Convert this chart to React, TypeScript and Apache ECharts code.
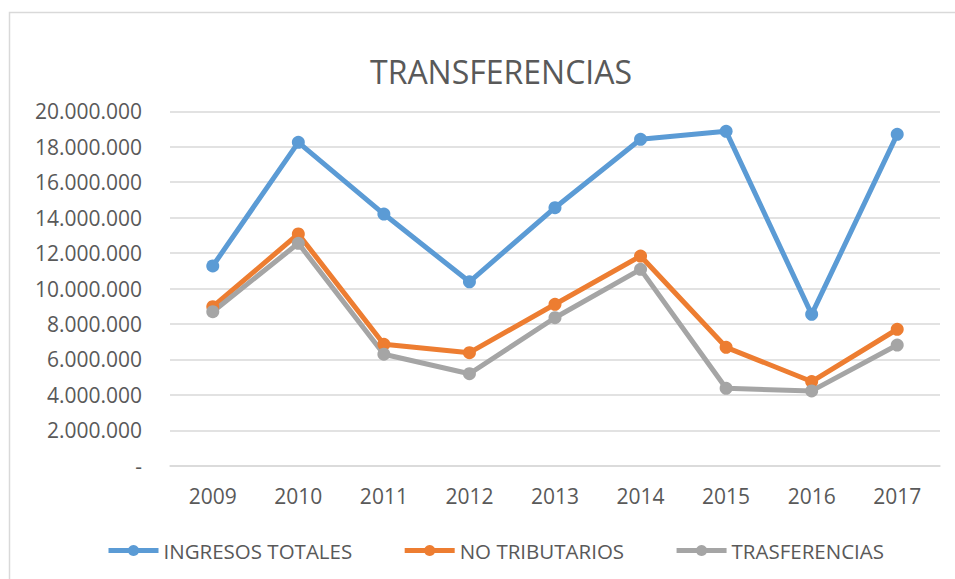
import React, { useEffect, useRef } from "react";
import * as echarts from "echarts";

const years = ["2009", "2010", "2011", "2012", "2013", "2014", "2015", "2016", "2017"];
const ingresosTotales = [11270000, 18250000, 14200000, 10380000, 14560000, 18420000, 18870000, 8540000, 18700000];
const noTributarios = [8970000, 13080000, 6850000, 6380000, 9110000, 11830000, 6680000, 4750000, 7700000];
const trasferencias = [8690000, 12550000, 6290000, 5190000, 8350000, 11080000, 4370000, 4220000, 6810000];

const FONT = "'Open Sans', 'Noto Sans', sans-serif";
const TEXT = "#595959";

function fmt(v: number): string {
  if (v === 0) return "-";
  return String(Math.round(v)).replace(/\B(?=(\d{3})+(?!\d))/g, ".");
}

export default function App() {
  const ref = useRef<HTMLDivElement>(null);
  useEffect(() => {
    if (!ref.current) return;
    const chart = echarts.init(ref.current, null, { renderer: "svg" });
    const mk = (name: string, data: number[], color: string) => ({
      name,
      type: "line",
      data,
      symbol: "circle",
      symbolSize: 13,
      lineStyle: { width: 5, color },
      itemStyle: { color },
      z: 2,
    });
    chart.setOption({
      animation: false,
      backgroundColor: "#ffffff",
      textStyle: { fontFamily: FONT },
      title: {
        text: "TRANSFERENCIAS",
        left: 365,
        top: 50,
        textStyle: { fontFamily: FONT, fontSize: 32, fontWeight: "normal", color: TEXT },
      },
      graphic: [
        {
          type: "rect",
          shape: { x: 9.5, y: 12.5, width: 1000, height: 700 },
          style: { fill: "none", stroke: "#d9d9d9", lineWidth: 1.5 },
          silent: true,
        },
      ],
      legend: {
        left: 101,
        top: 535,
        itemWidth: 50,
        itemHeight: 14,
        itemGap: 50,
        lineStyle: { width: 5 },
        textStyle: { fontFamily: FONT, fontSize: 20.5, color: TEXT },
        data: ["INGRESOS TOTALES", "NO TRIBUTARIOS", "TRASFERENCIAS"],
      },
      grid: { left: 170, right: 15, top: 111.3, bottom: 113.3, containLabel: false },
      xAxis: {
        type: "category",
        data: years,
        boundaryGap: true,
        axisLine: { lineStyle: { color: "#d9d9d9", width: 1.5 } },
        axisTick: { show: false },
        axisLabel: { fontFamily: FONT, fontSize: 21, color: TEXT, margin: 20 },
      },
      yAxis: {
        type: "value",
        min: 0,
        max: 20000000,
        interval: 2000000,
        axisLine: { show: false },
        axisTick: { show: false },
        splitLine: { lineStyle: { color: "#d9d9d9", width: 1.5 } },
        axisLabel: { fontFamily: FONT, fontSize: 21, color: TEXT, margin: 28, formatter: (v: number) => fmt(v) },
      },
      series: [
        mk("INGRESOS TOTALES", ingresosTotales, "#5B9BD5"),
        mk("NO TRIBUTARIOS", noTributarios, "#ED7D31"),
        mk("TRASFERENCIAS", trasferencias, "#A5A5A5"),
      ],
    });
    return () => chart.dispose();
  }, []);
  return (
    <div
      ref={ref}
      style={{ position: "absolute", left: 0, top: 0, width: 955, height: 579 }}
    />
  );
}
